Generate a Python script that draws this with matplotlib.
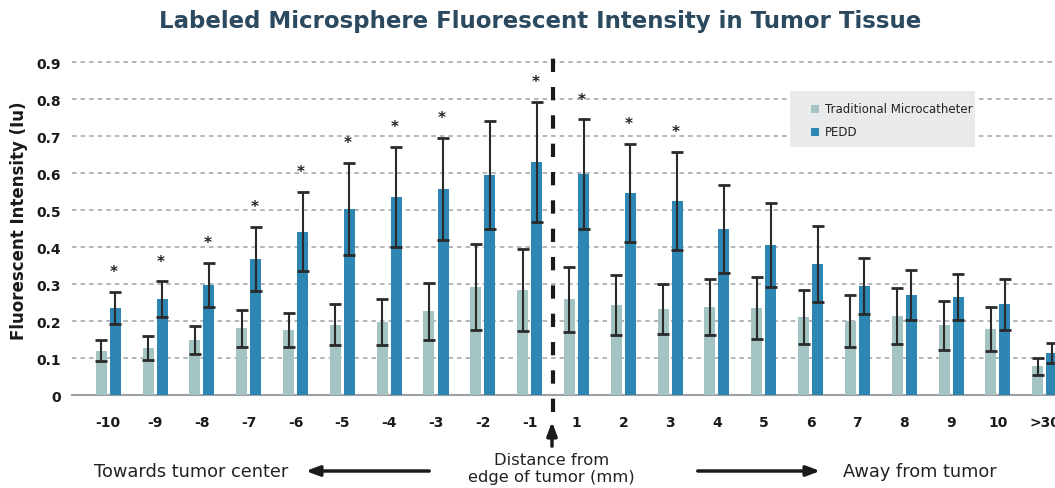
import numpy as np
import matplotlib
matplotlib.use("Agg")
import matplotlib.pyplot as plt
from matplotlib.patches import Rectangle

plt.rcParams['font.family'] = ['DejaVu Sans']

distances = ['-10', '-9', '-8', '-7', '-6', '-5', '-4', '-3', '-2', '-1',
             '1', '2', '3', '4', '5', '6', '7', '8', '9', '10', '>30']

trad_mean = [0.120, 0.128, 0.149, 0.181, 0.176, 0.190, 0.198, 0.227, 0.292, 0.284,
             0.259, 0.243, 0.232, 0.238, 0.235, 0.211, 0.201, 0.214, 0.189, 0.178, 0.078]
trad_err = [0.029, 0.033, 0.039, 0.050, 0.047, 0.055, 0.062, 0.077, 0.117, 0.110,
            0.088, 0.081, 0.068, 0.076, 0.084, 0.073, 0.070, 0.076, 0.066, 0.060, 0.023]

pedd_mean = [0.236, 0.259, 0.298, 0.368, 0.441, 0.503, 0.535, 0.557, 0.595, 0.630,
             0.597, 0.546, 0.524, 0.449, 0.405, 0.354, 0.295, 0.270, 0.265, 0.246, 0.114]
pedd_err = [0.043, 0.048, 0.059, 0.086, 0.107, 0.125, 0.136, 0.137, 0.145, 0.161,
            0.148, 0.132, 0.133, 0.118, 0.114, 0.103, 0.075, 0.068, 0.062, 0.069, 0.026]

significant = ['-10', '-9', '-8', '-7', '-6', '-5', '-4', '-3', '-1', '1', '2', '3']

light = '#a3c4c2'
dark = '#2e86b3'

fig = plt.figure(figsize=(10.55, 4.89), dpi=100)
ax = fig.add_axes([0.068, 0.19, 0.932, 0.719])

x = np.arange(len(distances))
w = 0.235
off = 0.15
ekw = dict(ecolor='#2a2a2a', elinewidth=1.5, capsize=4.5, capthick=2)
ax.bar(x - off, trad_mean, w, color=light, yerr=trad_err, error_kw=ekw, zorder=3)
ax.bar(x + off, pedd_mean, w, color=dark, yerr=pedd_err, error_kw=ekw, zorder=3)

for i, d in enumerate(distances):
    if d in significant:
        ax.text(x[i] + off - 0.03, pedd_mean[i] + pedd_err[i] + 0.055, '*',
                ha='center', va='center', fontsize=11, fontweight='bold', color='#222222')

# edge of tumor line
edge = (x[9] + x[10]) / 2
ax.plot([edge, edge], [-0.045, 0.94], color='#1a1a1a', lw=3,
        dashes=(3.2, 3.6), clip_on=False, zorder=4)

ax.set_xlim(-0.78, 20.22)
ax.set_ylim(0, 0.95)
ax.set_yticks(np.arange(0, 0.91, 0.1))
ax.set_yticklabels(['0'] + ['%.1f' % v for v in np.arange(0.1, 0.91, 0.1)],
                   fontsize=10, fontweight='bold', color='#1a1a1a')
ax.set_xticks(x)
ax.set_xticklabels(distances, fontsize=10, fontweight='bold', color='#1a1a1a')
ax.tick_params(axis='both', length=0)
ax.tick_params(axis='x', pad=14)
ax.tick_params(axis='y', pad=8)

for v in np.arange(0.1, 0.91, 0.1):
    ax.axhline(v, color='#9ea3a8', lw=1.1, dashes=(3, 2.6), zorder=1)
for s in ['top', 'right', 'left']:
    ax.spines[s].set_visible(False)
ax.spines['bottom'].set_color('#9aa0a5')
ax.spines['bottom'].set_linewidth(1.5)

ax.set_ylabel('Fluorescent Intensity (Iu)', fontsize=12, fontweight='bold',
              color='#1a1a1a', labelpad=6)

fig.text(0.512, 0.957, 'Labeled Microsphere Fluorescent Intensity in Tumor Tissue',
         ha='center', va='center', fontsize=16.5, fontweight='bold', color='#2c4a5f')

# legend box
leg_box = Rectangle((790 / 1055, 1 - 148 / 489), 185 / 1055, 56 / 489,
                    transform=fig.transFigure, facecolor='#e9eaec', edgecolor='none', zorder=5)
fig.patches.append(leg_box)
for yy, col, lab in [(110, light, 'Traditional Microcatheter'), (133, dark, 'PEDD')]:
    fig.patches.append(Rectangle((811 / 1055, 1 - (yy + 4) / 489), 8 / 1055, 8 / 489,
                                 transform=fig.transFigure, facecolor=col, edgecolor='none', zorder=6))
    fig.text(825 / 1055, 1 - yy / 489, lab, ha='left', va='center', fontsize=8.5,
             color='#222222', zorder=6)

# bottom annotations
fig.text(0.523, 1 - 461 / 489, 'Distance from', ha='center', va='center', fontsize=11.8, color='#222222')
fig.text(0.523, 1 - 478 / 489, 'edge of tumor (mm)', ha='center', va='center', fontsize=11.8, color='#222222')
fig.text(94 / 1055, 1 - 472 / 489, 'Towards tumor center', ha='left', va='center', fontsize=12.8, color='#222222')
fig.text(843 / 1055, 1 - 472 / 489, 'Away from tumor', ha='left', va='center', fontsize=12.8, color='#222222')

arrow = dict(arrowstyle='-|>,head_length=0.8,head_width=0.3', color='#1a1a1a', lw=2.5)
ax.annotate('', xy=(303 / 1055, 1 - 472 / 489), xytext=(432 / 1055, 1 - 472 / 489),
            xycoords='figure fraction', arrowprops=arrow, annotation_clip=False)
ax.annotate('', xy=(823 / 1055, 1 - 472 / 489), xytext=(695 / 1055, 1 - 472 / 489),
            xycoords='figure fraction', arrowprops=arrow, annotation_clip=False)
ax.annotate('', xy=(552 / 1055, 1 - 420 / 489), xytext=(552 / 1055, 1 - 450 / 489),
            xycoords='figure fraction', arrowprops=arrow, annotation_clip=False)

fig.savefig('out.png', dpi=100)
